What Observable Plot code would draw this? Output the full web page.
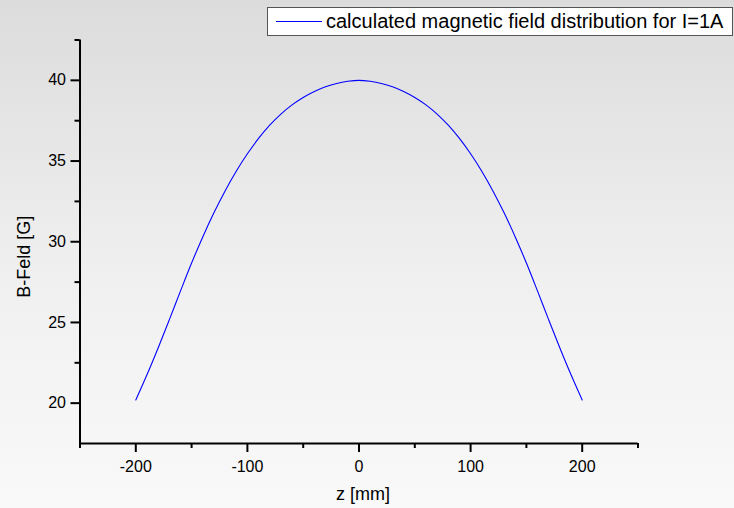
<!DOCTYPE html>
<html>
<head>
<meta charset="utf-8">
<script src="https://cdn.jsdelivr.net/npm/d3@7"></script>
<script src="https://cdn.jsdelivr.net/npm/@observablehq/plot@0.6"></script>
<style>
  html, body { margin: 0; padding: 0; }
  #wrap {
    position: relative; width: 734px; height: 508px; overflow: hidden;
    background: linear-gradient(to bottom, #dcdcdc 0%, #f0f0f0 55%, #f9f9f9 100%);
    font-family: "Liberation Sans", Arial, sans-serif;
  }
  #legend {
    position: absolute; left: 267px; top: 7px; width: 464px; height: 27px;
    border: 1px solid #555; background: #fff;
  }
  #legend .swatch {
    position: absolute; left: 8px; top: 13px; width: 46px; height: 0;
    border-top: 1px solid #0000ff;
  }
  #legend .label {
    position: absolute; left: 58px; top: 0; line-height: 27px;
    font-size: 20px; color: #000; white-space: nowrap;
  }
  svg { overflow: visible; }
</style>
</head>
<body>
<div id="wrap">
  <div id="chart"></div>
  <div id="legend"><div class="swatch"></div><div class="label" id="legendText"></div></div>
</div>
<script>
// Data
const zValues = [-200, -190, -180, -170, -160, -150, -140, -130, -120, -110, -100, -90, -80, -70, -60, -50, -40, -30, -20, -10,
                 0, 10, 20, 30, 40, 50, 60, 70, 80, 90, 100, 110, 120, 130, 140, 150, 160, 170, 180, 190, 200];
const bValues = [20.20, 21.76, 23.42, 25.16, 26.94, 28.68, 30.30, 31.79, 33.15, 34.37, 35.45, 36.40, 37.22, 37.91, 38.48, 38.94, 39.31, 39.60, 39.81, 39.94,
                 40.00, 39.94, 39.81, 39.60, 39.31, 38.94, 38.48, 37.91, 37.22, 36.40, 35.45, 34.37, 33.15, 31.79, 30.30, 28.68, 26.94, 25.16, 23.42, 21.76, 20.20];
const xMajorTicks = [-200, -100, 0, 100, 200];
const xMinorTicks = [-250, -150, -50, 50, 150, 250];
const yMajorTicks = [20, 25, 30, 35, 40];
const yMinorTicks = [22.5, 27.5, 32.5, 37.5, 42.5];
const xDomain = [-250, 250];
const yDomain = [17.5, 42.5];
const xTitle = "z [mm]";
const yTitle = "B-Feld [G]";
const seriesName = "calculated magnetic field distribution for I=1A";

const data = zValues.map((z, i) => ({z, B: bValues[i]}));
const fmt = d => String(d);

const chart = Plot.plot({
  width: 734,
  height: 508,
  marginLeft: 79.5,
  marginRight: 96.5,
  marginTop: 39.5,
  marginBottom: 65,
  style: {background: "transparent", fontFamily: "'Liberation Sans', Arial, sans-serif", fontSize: "16px", color: "#000"},
  x: {domain: xDomain},
  y: {domain: yDomain},
  marks: [
    Plot.axisX({ticks: xMajorTicks, tickSize: 9, tickPadding: 8, strokeWidth: 2, label: null, fontSize: 16, tickFormat: fmt}),
    Plot.axisX({ticks: xMinorTicks, tickSize: 5, strokeWidth: 2, label: null, tickFormat: () => ""}),
    Plot.axisY({ticks: yMajorTicks, tickSize: 9, tickPadding: 5, strokeWidth: 2, label: null, fontSize: 16, tickFormat: fmt}),
    Plot.axisY({ticks: yMinorTicks, tickSize: 5, strokeWidth: 2, label: null, tickFormat: () => ""}),
    Plot.ruleX([xDomain[0]], {stroke: "#000", strokeWidth: 2}),
    Plot.ruleY([yDomain[0]], {stroke: "#000", strokeWidth: 2}),
    Plot.line(data, {x: "z", y: "B", stroke: "#0000ff", strokeWidth: 1.1, curve: "monotone-x"}),
    Plot.text([xTitle], {frameAnchor: "bottom", dx: 4, dy: 51, lineAnchor: "middle", fontSize: 18, fill: "#000"}),
    Plot.text([yTitle], {frameAnchor: "left", dx: -55.5, dy: 15, rotate: -90, lineAnchor: "middle", textAnchor: "middle", fontSize: 18, fill: "#000"})
  ]
});
document.getElementById("chart").appendChild(chart);
document.getElementById("legendText").textContent = seriesName;
</script>
</body>
</html>
